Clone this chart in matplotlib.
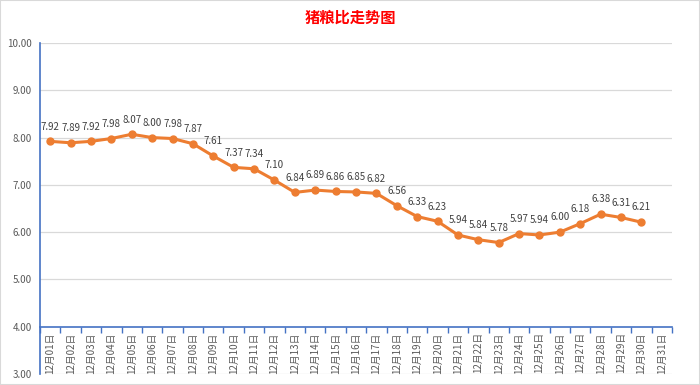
import matplotlib
matplotlib.use("Agg")
import matplotlib.pyplot as plt
from matplotlib.ticker import FixedLocator, FormatStrFormatter
import matplotlib.patches as mpatches

plt.rcParams["font.family"] = ["Noto Sans CJK SC", "DejaVu Sans"]

# data
dates = [f"12月{d:02d}日" for d in range(1, 32)]
ratio = [7.92, 7.89, 7.92, 7.98, 8.07, 8.00, 7.98, 7.87, 7.61, 7.37,
         7.34, 7.10, 6.84, 6.89, 6.86, 6.85, 6.82, 6.56, 6.33, 6.23,
         5.94, 5.84, 5.78, 5.97, 5.94, 6.00, 6.18, 6.38, 6.31, 6.21]

orange = "#ED7D31"
blue = "#4472C4"
gray_txt = "#595959"

fig = plt.figure(figsize=(7, 3.85), dpi=100)
ax = fig.add_axes([40 / 700, 11 / 385, 632 / 700, 331 / 385])

x = list(range(len(ratio)))
ax.plot(x, ratio, color=orange, linewidth=2.2, marker="o", markersize=5,
        zorder=3)

for xi, v in zip(x, ratio):
    ax.annotate(f"{v:.2f}", (xi, v), xytext=(0, 7), textcoords="offset points",
                ha="center", va="bottom", fontsize=7, color="#404040")

ax.set_ylim(3, 10)
ax.set_xlim(-0.5, len(dates) - 0.5)
ax.set_yticks([3, 4, 5, 6, 7, 8, 9, 10])
ax.yaxis.set_major_formatter(FormatStrFormatter("%.2f"))
ax.tick_params(axis="y", length=0, labelsize=7, labelcolor=gray_txt, pad=6)

# gridlines
for yv in [3, 5, 6, 7, 8, 9, 10]:
    ax.axhline(yv, color="#D9D9D9", linewidth=0.9, zorder=0)

# category axis crosses at 4
ax.spines["bottom"].set_position(("data", 4))
ax.spines["bottom"].set_color(blue)
ax.spines["bottom"].set_linewidth(1.2)
ax.spines["left"].set_color(blue)
ax.spines["left"].set_linewidth(1.2)
ax.spines["top"].set_visible(False)
ax.spines["right"].set_visible(False)

ax.set_xticks(range(len(dates)))
ax.set_xticklabels(dates, rotation=90, fontsize=7, color=gray_txt)
ax.xaxis.set_minor_locator(FixedLocator([i - 0.5 for i in range(len(dates) + 1)]))
ax.tick_params(axis="x", which="major", length=0, pad=4)
ax.tick_params(axis="x", which="minor", length=4, color=blue, width=1)

fig.suptitle("猪粮比走势图", color="red", fontsize=11, fontweight="bold",
             y=1 - 18 / 385, va="center")

fig.patches.append(mpatches.Rectangle((0, 0), 1, 1, transform=fig.transFigure,
                                      fill=False, edgecolor="#D9D9D9",
                                      linewidth=1.5))

fig.savefig("out.png", dpi=100)
